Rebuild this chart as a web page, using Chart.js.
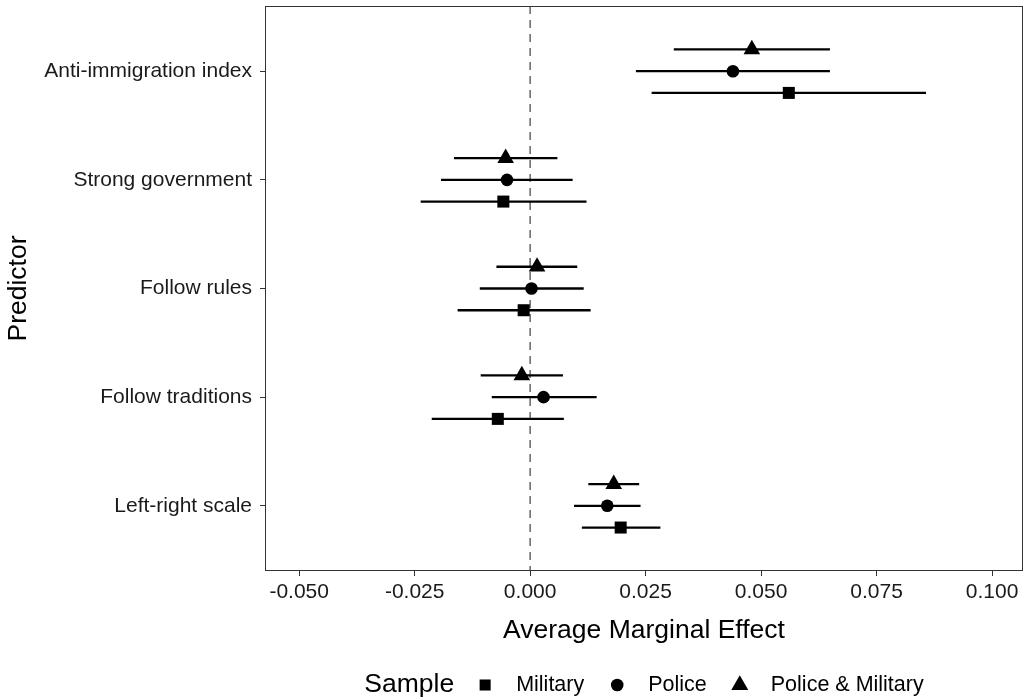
<!DOCTYPE html>
<html>
<head>
<meta charset="utf-8">
<script src="https://cdn.jsdelivr.net/npm/chart.js@4.4.1/dist/chart.umd.min.js"></script>
<style>
  body { margin: 0; background: #fff; }
  canvas { display: block; }
</style>
</head>
<body>
<canvas id="efeitos" width="1025" height="700"></canvas>
<script>
// predictors, top to bottom as they show on the axis
var predictors = ['Anti-immigration index', 'Strong government', 'Follow rules', 'Follow traditions', 'Left-right scale']

// Military (square)
var militaryEst = [0.0560, -0.0058, -0.0014, -0.0070, 0.0196]
var militaryLo  = [0.0263, -0.0237, -0.0157, -0.0213, 0.0112]
var militaryHi  = [0.0857,  0.0122,  0.0131,  0.0073, 0.0282]

// Police (circle)
var policeEst = [0.0439, -0.0050, 0.0003,  0.0029, 0.0167]
var policeLo  = [0.0229, -0.0193, -0.0109, -0.0083, 0.0095]
var policeHi  = [0.0649,  0.0092,  0.0116,  0.0144, 0.0239]

// Police & Military (triangle)
var bothEst = [0.0480, -0.0053,  0.0015, -0.0018, 0.0181]
var bothLo  = [0.0311, -0.0165, -0.0073, -0.0107, 0.0126]
var bothHi  = [0.0649,  0.0059,  0.0102,  0.0071, 0.0236]

var xTicks = [-0.05, -0.025, 0, 0.025, 0.05, 0.075, 0.1]

Chart.defaults.font.family = "'Liberation Sans', Arial, sans-serif"
Chart.defaults.color = '#1a1a1a'

function pontos(est, lo, hi, desloc) {
    return est.map(function (v, i) {
        return { x: v, y: predictors.length - i + desloc, lo: lo[i], hi: hi[i] }
    })
}

// horizontal confidence intervals, drawn under the markers
var barrasErro = {
    id: 'barrasErro',
    beforeDatasetsDraw: function (chart) {
        var ctx = chart.ctx, sx = chart.scales.x, sy = chart.scales.y
        var area = chart.chartArea
        ctx.save()
        // dashed zero line
        ctx.strokeStyle = '#666'
        ctx.lineWidth = 1.5
        ctx.setLineDash([8, 6])
        ctx.beginPath()
        ctx.moveTo(sx.getPixelForValue(0), area.top)
        ctx.lineTo(sx.getPixelForValue(0), area.bottom)
        ctx.stroke()
        ctx.setLineDash([])
        ctx.strokeStyle = '#000'
        ctx.lineWidth = 2.3
        chart.data.datasets.forEach(function (ds) {
            ds.data.forEach(function (p) {
                var y = sy.getPixelForValue(p.y)
                ctx.beginPath()
                ctx.moveTo(sx.getPixelForValue(p.lo), y)
                ctx.lineTo(sx.getPixelForValue(p.hi), y)
                ctx.stroke()
            })
        })
        ctx.restore()
    },
    afterDatasetsDraw: function (chart) {
        var ctx = chart.ctx, a = chart.chartArea
        ctx.save()
        ctx.strokeStyle = '#333'
        ctx.lineWidth = 1
        ctx.strokeRect(a.left + 0.5, a.top + 0.5, a.right - a.left - 1, a.bottom - a.top - 1)
        ctx.restore()
    }
}

// legend in one row: "Sample  ■ Military  ● Police  ▲ Police & Military"
var legenda = {
    id: 'legenda',
    afterDraw: function (chart) {
        var ctx = chart.ctx, a = chart.chartArea
        var y = 685
        ctx.save()
        ctx.fillStyle = '#000'
        ctx.textBaseline = 'middle'
        ctx.font = "26.5px 'Liberation Sans', Arial, sans-serif"
        var wTitulo = ctx.measureText('Sample').width
        ctx.font = "21.5px 'Liberation Sans', Arial, sans-serif"
        var itens = chart.data.datasets.map(function (ds) {
            return { ds: ds, w: ctx.measureText(ds.label).width }
        })
        var total = wTitulo + 31
        itens.forEach(function (it, i) {
            total += 31 + it.w + (i < itens.length - 1 ? 33 : 0)
        })
        var x = (a.left + a.right) / 2 - total / 2
        ctx.font = "26.5px 'Liberation Sans', Arial, sans-serif"
        ctx.fillText('Sample', x, y)
        x += wTitulo + 31
        ctx.font = "21.5px 'Liberation Sans', Arial, sans-serif"
        itens.forEach(function (it, i) {
            Chart.helpers.drawPoint(ctx, {
                pointStyle: it.ds.pointStyle,
                radius: it.ds.legendRadius,
                rotation: 0,
                borderWidth: 0
            }, x, y)
            ctx.fillText(it.ds.label, x + 31, y)
            x += 31 + it.w + 33
        })
        ctx.restore()
    }
}

new Chart(document.getElementById('efeitos'), {
    type: 'scatter',
    data: {
        datasets: [
            {
                label: 'Military',
                data: pontos(militaryEst, militaryLo, militaryHi, -0.2),
                pointStyle: 'rect',
                pointRadius: 8.5,
                legendRadius: 7.8,
                backgroundColor: '#000',
                borderColor: '#000',
                borderWidth: 0
            },
            {
                label: 'Police',
                data: pontos(policeEst, policeLo, policeHi, 0),
                pointStyle: 'circle',
                pointRadius: 6.3,
                legendRadius: 6.3,
                backgroundColor: '#000',
                borderColor: '#000',
                borderWidth: 0
            },
            {
                label: 'Police & Military',
                data: pontos(bothEst, bothLo, bothHi, 0.2),
                pointStyle: 'triangle',
                pointRadius: 9.6,
                legendRadius: 9.8,
                backgroundColor: '#000',
                borderColor: '#000',
                borderWidth: 0
            }
        ]
    },
    options: {
        responsive: false,
        animation: false,
        devicePixelRatio: 1,
        events: [],
        layout: { autoPadding: false, padding: { top: 6, right: 2, left: 0, bottom: 0 } },
        plugins: {
            legend: { display: false },
            tooltip: { enabled: false }
        },
        scales: {
            x: {
                type: 'linear',
                min: -0.0574,
                max: 0.1067,
                afterBuildTicks: function (scale) {
                    scale.ticks = xTicks.map(function (v) { return { value: v } })
                },
                afterFit: function (scale) {
                    scale.height = 129
                    scale.paddingLeft = 0
                    scale.paddingRight = 0
                },
                ticks: {
                    padding: 4,
                    font: { size: 21 },
                    color: '#1a1a1a',
                    callback: function (v) { return v.toFixed(3) }
                },
                grid: { drawOnChartArea: false, tickLength: 5, color: '#333' },
                border: { display: false },
                title: {
                    display: true,
                    text: 'Average Marginal Effect',
                    color: '#000',
                    font: { size: 26.5 },
                    padding: { top: 0, bottom: 53 }
                }
            },
            y: {
                type: 'linear',
                min: 0.4,
                max: 5.6,
                afterBuildTicks: function (scale) {
                    scale.ticks = predictors.map(function (p, i) { return { value: predictors.length - i } })
                },
                afterFit: function (scale) {
                    scale.width = 265
                    scale.paddingTop = 0
                    scale.paddingBottom = 0
                },
                ticks: {
                    padding: 8,
                    font: { size: 21 },
                    color: '#1a1a1a',
                    callback: function (v) { return predictors[predictors.length - v] }
                },
                grid: { drawOnChartArea: false, tickLength: 5, color: '#333' },
                border: { display: false },
                title: {
                    display: true,
                    text: 'Predictor',
                    color: '#000',
                    font: { size: 26.5 },
                    padding: { top: 3, bottom: 0 }
                }
            }
        }
    },
    plugins: [barrasErro, legenda]
})
</script>
</body>
</html>
